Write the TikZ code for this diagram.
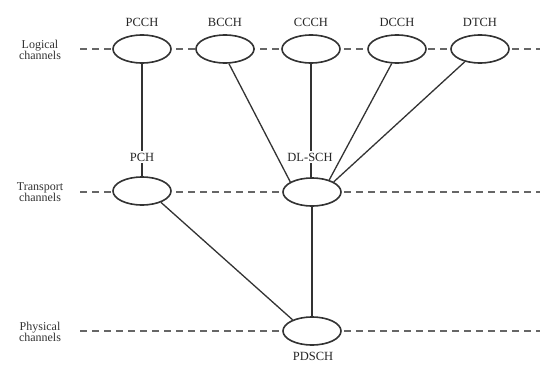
\documentclass[tikz,border=0pt]{standalone}
\usepackage{fontspec}
\setmainfont{Liberation Serif}
\usetikzlibrary{shapes.geometric,backgrounds}
\begin{document}
\begin{tikzpicture}[x=1pt,y=-1pt,
  chan/.style={ellipse,draw=black!80,line width=1.6pt,fill=white,
    minimum width=58pt,minimum height=28pt,inner sep=0pt},
  tag/.style={font=\fontsize{12.5}{14}\selectfont,text=black!85,fill=white,inner sep=1.5pt},
  layer/.style={font=\fontsize{12}{13}\selectfont,text=black!80,align=center},
  link/.style={draw=black!80,line width=1.3pt},
  level/.style={draw=black!60,line width=1.1pt,dash pattern=on 7pt off 5pt}]
\useasboundingbox (0,0) rectangle (542,367);

% channel ellipses
\node[chan] (pcch) at (142,49) {};
\node[chan] (bcch) at (225,49) {};
\node[chan] (ccch) at (311,49) {};
\node[chan] (dcch) at (397,49) {};
\node[chan] (dtch) at (480,49) {};
\node[chan] (pch)  at (142,191) {};
\node[chan] (dlsch) at (312,192) {};
\node[chan] (pdsch) at (312,331) {};

% channel names
\node[tag] (tpcch) at (142,22) {PCCH};
\node[tag] (tbcch) at (225,22) {BCCH};
\node[tag] (tccch) at (311,22) {CCCH};
\node[tag] (tdcch) at (397,22) {DCCH};
\node[tag] (tdtch) at (480,22) {DTCH};
\node[tag] (tpch)  at (142,157) {PCH};
\node[tag] (tdlsch) at (310,157) {DL-SCH};
\node[tag] (tpdsch) at (313,356) {PDSCH};

% layer names
\node[layer] (llog) at (40,50) {Logical\\[-2pt]channels};
\node[layer] (ltr)  at (40,192) {Transport\\[-2pt]channels};
\node[layer] (lph)  at (40,332) {Physical\\[-2pt]channels};

\coordinate (logL) at (80,49);  \coordinate (logR) at (540,49);
\coordinate (trL)  at (80,192); \coordinate (trR)  at (540,192);
\coordinate (phL)  at (80,331); \coordinate (phR)  at (540,331);

\begin{pgfonlayer}{background}
  % layer lines
  \draw[level] (logL) -- (logR);
  \draw[level] (trL) -- (trR);
  \draw[level] (phL) -- (phR);
  % mappings
  \draw[link] (pcch.south) -- (tpch.north);
  \draw[link] (tpch.south) -- (pch.north);
  \draw[link] (bcch.-75) -- (dlsch.155);
  \draw[link] (ccch.south) -- (ccch.south |- dlsch.north);
  \draw[link] (dcch.-110) -- (dlsch.35);
  \draw[link] (dtch.-140) -- (dlsch.25);
  \draw[link] (pch.-31) -- (pdsch.150);
  \draw[link] (dlsch.south) -- (pdsch.north);
\end{pgfonlayer}
\end{tikzpicture}
\end{document}
